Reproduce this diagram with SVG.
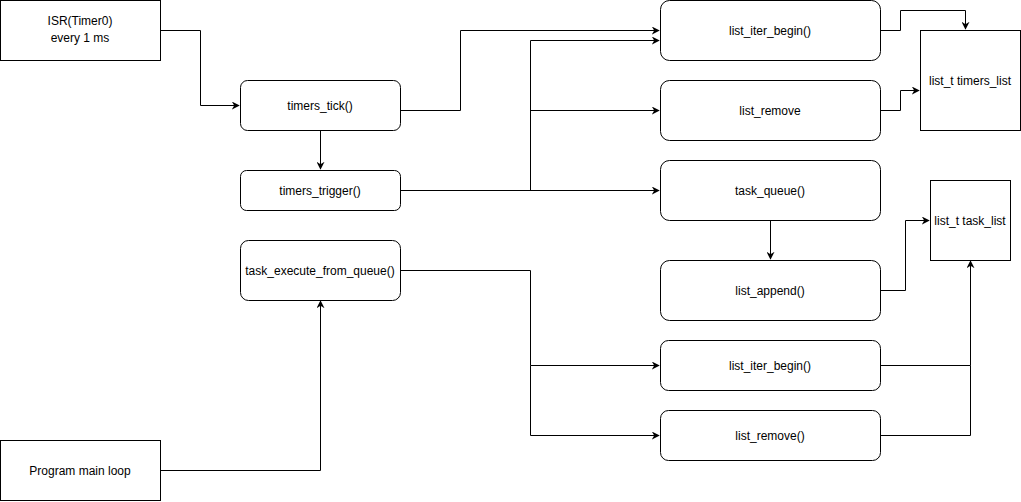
<svg xmlns="http://www.w3.org/2000/svg" width="1021" height="502" viewBox="0 0 1021 502">
<style>
.box{fill:#fff;stroke:#000;stroke-width:1}
.t{font-family:"Liberation Sans",Arial,sans-serif;font-size:12px;fill:#000;text-anchor:middle;dominant-baseline:central}
.c{fill:none;stroke:#000;stroke-width:1}
</style>
<defs>
<marker id="a" viewBox="0 0 10 10" refX="9" refY="5" markerWidth="8" markerHeight="8" markerUnits="userSpaceOnUse" orient="auto">
<path d="M0,0 L10,5 L0,10 L3,5 z" fill="#000"/>
</marker>
</defs>
<rect width="1021" height="502" fill="#fff"/>
<g id="connectors">
<path class="c" d="M160.5,30.5 H200.5 V105.5 H239" marker-end="url(#a)"/>
<path class="c" d="M320.5,130.5 V169" marker-end="url(#a)"/>
<path class="c" d="M400.5,110.5 H460.5 V30.5 H659" marker-end="url(#a)"/>
<path class="c" d="M400.5,190.5 H659" marker-end="url(#a)"/>
<path class="c" d="M530.5,190.5 V40.5 H659" marker-end="url(#a)"/>
<path class="c" d="M530.5,110.5 H659" marker-end="url(#a)"/>
<path class="c" d="M770.5,220.5 V259" marker-end="url(#a)"/>
<path class="c" d="M880.5,30.5 H900.5 V10.5 H965.5 V29" marker-end="url(#a)"/>
<path class="c" d="M880.5,110.5 H900.5 V90.5 H919" marker-end="url(#a)"/>
<path class="c" d="M880.5,290.5 H905.5 V220.5 H929" marker-end="url(#a)"/>
<path class="c" d="M880.5,365.5 H970.5 V261" marker-end="url(#a)"/>
<path class="c" d="M880.5,435.5 H970.5 V365.5"/>
<path class="c" d="M400.5,270.5 H530.5 V365.5 H659" marker-end="url(#a)"/>
<path class="c" d="M530.5,365.5 V435.5 H659" marker-end="url(#a)"/>
<path class="c" d="M160.5,470.5 H320.5 V301" marker-end="url(#a)"/>
</g>
<g id="isr"><rect class="box" x="0.5" y="0.5" width="160" height="60"/><text class="t" x="80" y="21">ISR(Timer0)</text><text class="t" x="80" y="38">every 1 ms</text></g>
<g id="timers_tick"><rect class="box" x="240.5" y="80.5" width="160" height="50" rx="7"/><text class="t" x="320" y="106">timers_tick()</text></g>
<g id="timers_trigger"><rect class="box" x="240.5" y="170.5" width="160" height="40" rx="6"/><text class="t" x="320" y="191">timers_trigger()</text></g>
<g id="task_execute"><rect class="box" x="240.5" y="240.5" width="160" height="60" rx="8"/><text class="t" x="320" y="271">task_execute_from_queue()</text></g>
<g id="main_loop"><rect class="box" x="0.5" y="440.5" width="160" height="60"/><text class="t" x="80" y="471">Program main loop</text></g>
<g id="list_iter_begin1"><rect class="box" x="660.5" y="0.5" width="220" height="60" rx="9"/><text class="t" x="770" y="31">list_iter_begin()</text></g>
<g id="list_remove1"><rect class="box" x="660.5" y="80.5" width="220" height="60" rx="9"/><text class="t" x="770" y="111">list_remove</text></g>
<g id="task_queue"><rect class="box" x="660.5" y="160.5" width="220" height="60" rx="9"/><text class="t" x="770" y="191">task_queue()</text></g>
<g id="list_append"><rect class="box" x="660.5" y="260.5" width="220" height="60" rx="9"/><text class="t" x="770" y="291">list_append()</text></g>
<g id="list_iter_begin2"><rect class="box" x="660.5" y="340.5" width="220" height="50" rx="8"/><text class="t" x="770" y="366">list_iter_begin()</text></g>
<g id="list_remove2"><rect class="box" x="660.5" y="410.5" width="220" height="50" rx="8"/><text class="t" x="770" y="436">list_remove()</text></g>
<g id="timers_list"><rect class="box" x="920.5" y="30.5" width="100" height="100"/><text class="t" x="970" y="81">list_t timers_list</text></g>
<g id="task_list"><rect class="box" x="930.5" y="180.5" width="80" height="80"/><text class="t" x="970" y="221">list_t task_list</text></g>
</svg>
